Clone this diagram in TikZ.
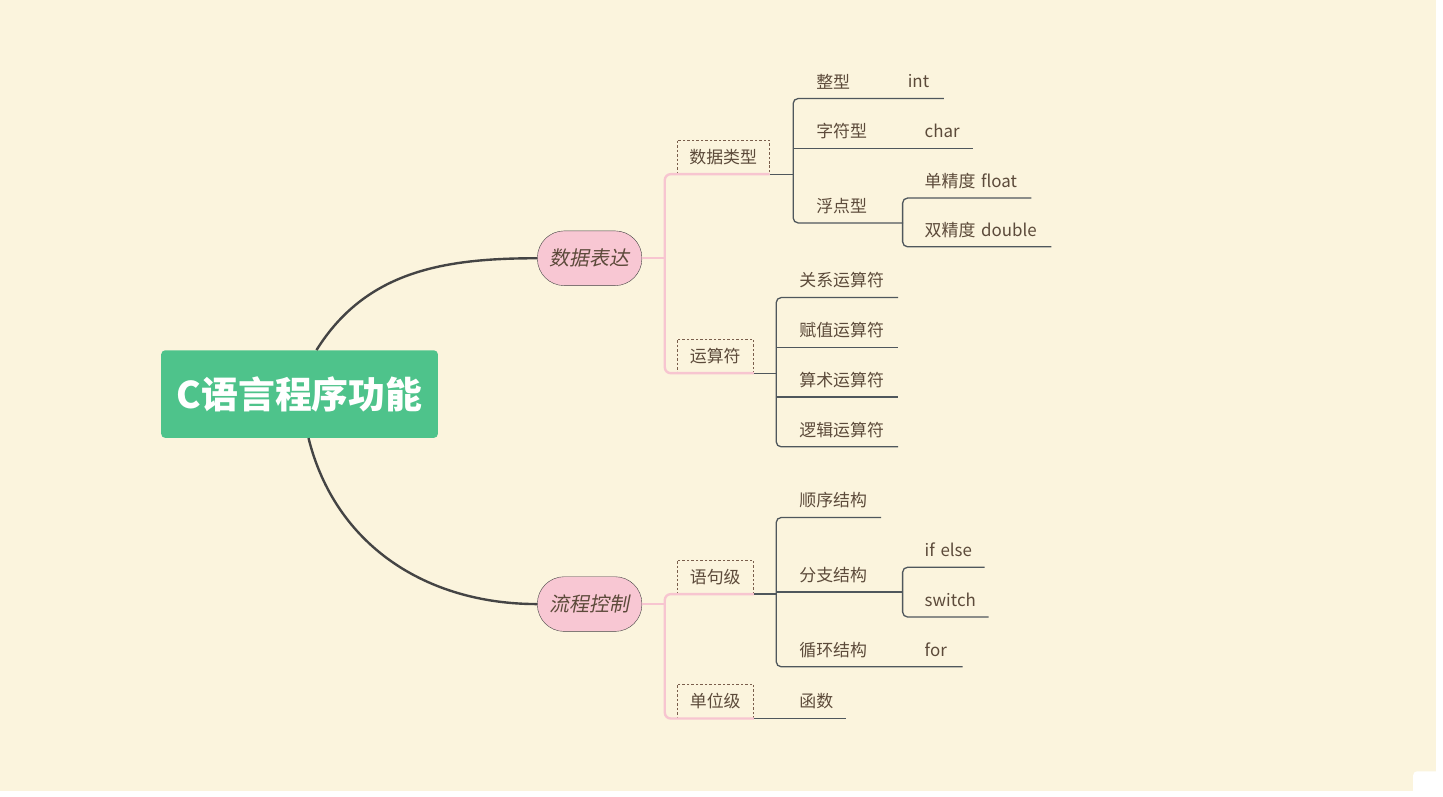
\documentclass[tikz,border=0pt]{standalone}
\usepackage{fontspec}
\setmainfont{Noto Sans CJK SC}
\newfontfamily\slantfont[FakeSlant=0.2]{Noto Sans CJK SC}
\definecolor{bgc}{HTML}{FBF4DD}
\definecolor{rootc}{HTML}{4EC38B}
\definecolor{pillc}{HTML}{F8C7D3}
\definecolor{pinkc}{HTML}{F7C5D0}
\definecolor{linec}{HTML}{4F575C}
\definecolor{txtc}{HTML}{5C4A3A}
\definecolor{boxc}{HTML}{7A5E4C}
\definecolor{curvec}{HTML}{444444}
\begin{document}
\begin{tikzpicture}[x=1pt, y=-1pt,
        root/.style={fill=rootc, rounded corners=4pt, minimum width=278,
                     minimum height=88, text=white,
                     font=\bfseries\fontsize{37}{40}\selectfont},
        topic/.style={draw=curvec, fill=pillc, rounded corners=27pt,
                      minimum width=105, minimum height=55, text=txtc,
                      font=\slantfont\fontsize{20}{24}\selectfont},
        sub/.style={draw=boxc, dashed, dash pattern=on 2.5pt off 2pt,
                    anchor=south west, minimum width=#1, minimum height=34,
                    inner xsep=0, text=txtc, font=\fontsize{17}{20}\selectfont},
        leaf/.style={anchor=south west, inner xsep=0, inner ysep=0,
                     minimum height=34, text width=#1, align=left, text=txtc,
                     font=\fontsize{17}{20}\selectfont},
        curve/.style={draw=curvec, line width=2.4pt},
        pinkline/.style={draw=pinkc, line width=2.4pt, rounded corners=6pt},
        branch/.style={draw=linec, line width=1.3pt, rounded corners=5pt},
    ]
    \fill[bgc] (0,0) rectangle (1443,795);
    \fill[white, rounded corners=4pt] (1420,775) rectangle (1450,800);

    \node[root] (cfun) at (301,396) {C语言程序功能};
    \node[topic] (sj) at (592.5,259.5) {数据表达};
    \node[topic] (lc) at (592.5,607) {流程控制};

    \draw[curve] ([xshift=17]cfun.north) to[out=58, in=180] (sj.west);
    \draw[curve] ([xshift=9]cfun.south) to[out=-76, in=180] (lc.west);

    % second level
    \node[sub=93] (dt) at (680,175) {数据类型};
    \node[sub=77] (ys) at (680,375) {运算符};
    \node[sub=77] (yj) at (680,597) {语句级};
    \node[sub=77] (dw) at (680,722) {单位级};

    \draw[pinkline] (sj.east) -- ++(23,0);
    \draw[pinkline] (dt.south east) -- ([xshift=-12]dt.south west) |- (ys.south east);
    \draw[pinkline] (lc.east) -- ++(23,0);
    \draw[pinkline] (yj.south east) -- ([xshift=-12]yj.south west) |- (dw.south east);

    % 数据类型
    \node[leaf=47] (zx) at (820,99) {整型};
    \node[leaf=36] (it) at (912,99) {int};
    \node[leaf=85] (zf) at (820,149) {字符型};
    \node[leaf=48] (ch) at (929,149) {char};
    \node[leaf=87] (fd) at (820,224) {浮点型};
    \node[leaf=107] (fl) at (929,199) {单精度 float};
    \node[leaf=127] (db) at (929,248) {双精度 double};

    \draw[branch] (dt.south east) -- ++(24,0);
    \draw[branch] (it.south east) -- ([xshift=-23]zx.south west)
        -- ([xshift=-23]fd.south west) -- (fd.south east);
    \draw[branch] ([xshift=-23]zf.south west) -- (ch.south east);
    \draw[branch] (fl.south east) -- ([xshift=-22]fl.south west)
        -- ([xshift=-22]db.south west) -- (db.south east);

    % 运算符
    \node[leaf=99] (gx) at (803,299) {关系运算符};
    \node[leaf=99] (fz) at (803,349) {赋值运算符};
    \node[leaf=99] (ss) at (803,399) {算术运算符};
    \node[leaf=99] (lj) at (803,449) {逻辑运算符};

    \draw[branch] (ys.south east) -- ++(23,0);
    \draw[branch] (gx.south east) -- ([xshift=-23]gx.south west)
        -- ([xshift=-23]lj.south west) -- (lj.south east);
    \draw[branch] ([xshift=-23]fz.south west) -- (fz.south east);
    \draw[branch] ([xshift=-23]ss.south west) -- (ss.south east);

    % 语句级
    \node[leaf=82] (sx) at (803,520) {顺序结构};
    \node[leaf=104] (fzj) at (803,595) {分支结构};
    \node[leaf=60] (ie) at (929,570) {if else};
    \node[leaf=64] (sw) at (929,620) {switch};
    \node[leaf=82] (xh) at (803,670) {循环结构};
    \node[leaf=38] (fr) at (929,670) {for};

    \draw[branch] (yj.south east) -- ++(23,0);
    \draw[branch] (sx.south east) -- ([xshift=-23]sx.south west)
        -- ([xshift=-23]xh.south west) -- (fr.south east);
    \draw[branch] ([xshift=-23]fzj.south west) -- (fzj.south east);
    \draw[branch] (ie.south east) -- ([xshift=-22]ie.south west)
        -- ([xshift=-22]sw.south west) -- (sw.south east);

    % 单位级
    \node[leaf=47] (hs) at (803,722) {函数};
    \draw[branch] (dw.south east) -- (hs.south east);
\end{tikzpicture}
\end{document}
